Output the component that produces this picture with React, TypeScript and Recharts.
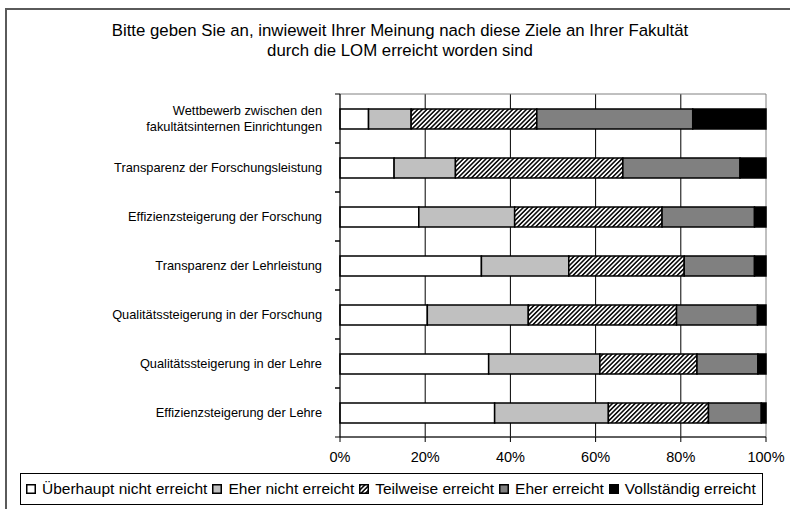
import React from "react";
import { BarChart, Bar, XAxis, YAxis, CartesianGrid, ReferenceArea } from "recharts";

const categories = [
  "Wettbewerb zwischen den\nfakultätsinternen Einrichtungen",
  "Transparenz der Forschungsleistung",
  "Effizienzsteigerung der Forschung",
  "Transparenz der Lehrleistung",
  "Qualitätssteigerung in der Forschung",
  "Qualitätssteigerung in der Lehre",
  "Effizienzsteigerung der Lehre",
];

const seriesNames = [
  "Überhaupt nicht erreicht",
  "Eher nicht erreicht",
  "Teilweise erreicht",
  "Eher erreicht",
  "Vollständig erreicht",
];

// percent values, one entry per category (top to bottom)
const ueberhauptNicht = [6.7, 12.7, 18.5, 33.2, 20.5, 34.9, 36.3];
const eherNicht = [10.0, 14.4, 22.5, 20.5, 23.7, 26.1, 26.7];
const teilweise = [29.5, 39.3, 34.6, 27.1, 34.8, 22.8, 23.5];
const eherErreicht = [36.6, 27.5, 21.7, 16.5, 19.0, 14.3, 12.4];
const vollstaendig = [17.2, 6.1, 2.7, 2.7, 2.0, 1.9, 1.1];

const xTicks = [0, 20, 40, 60, 80, 100];

const seriesValues = [ueberhauptNicht, eherNicht, teilweise, eherErreicht, vollstaendig];
const fills = ["#FFFFFF", "#C0C0C0", "url(#hatch)", "#808080", "#000000"];

const data = categories.map((name, i) => {
  const row: Record<string, string | number> = { name };
  seriesValues.forEach((vals, s) => {
    row["s" + s] = vals[i];
  });
  return row;
});

const FONT = "'Liberation Sans', Arial, sans-serif";

function CategoryTick(props: any) {
  const { x, y, payload } = props;
  const half = payload.offset || 24.5;
  const lines = String(payload.value).split("\n");
  const lh = 16;
  const first = -((lines.length - 1) * lh) / 2 + 4.5;
  return (
    <g>
      <line x1={x - 5} x2={x} y1={y - half} y2={y - half} stroke="#000" />
      <line x1={x - 5} x2={x} y1={y + half} y2={y + half} stroke="#000" />
      <text x={x - 18} y={y} textAnchor="end" fontSize={12.8} fill="#000" fontFamily={FONT}>
        {lines.map((l, i) => (
          <tspan key={i} x={x - 18} dy={i === 0 ? first : lh}>
            {l}
          </tspan>
        ))}
      </text>
    </g>
  );
}

function Swatch({ index }: { index: number }) {
  return (
    <svg width={10} height={10} style={{ marginRight: 6, flex: "none" }}>
      <rect x={0.75} y={0.75} width={8.5} height={8.5} fill={fills[index]} stroke="#000" strokeWidth={1.5} />
    </svg>
  );
}

export default function App() {
  return (
    <div
      style={{
        position: "fixed",
        left: 0,
        top: 0,
        width: 790,
        height: 509,
        overflow: "hidden",
        background: "#fff",
        fontFamily: FONT,
      }}
    >
      <svg width={0} height={0} style={{ position: "absolute" }}>
        <defs>
          <pattern id="hatch" patternUnits="userSpaceOnUse" width={3.2} height={3.2} patternTransform="rotate(45)">
            <rect width={3.2} height={3.2} fill="#fff" />
            <line x1={1.6} y1={0} x2={1.6} y2={3.2} stroke="#000" strokeWidth={1.5} />
          </pattern>
        </defs>
      </svg>

      <div
        style={{
          position: "absolute",
          left: 5,
          top: 8,
          width: 820,
          height: 540,
          border: "2px solid #5a5a5a",
          boxSizing: "border-box",
        }}
      />

      <div
        style={{
          position: "absolute",
          left: 0,
          top: 21,
          width: 800,
          textAlign: "center",
          fontSize: 16.8,
          lineHeight: "20px",
          color: "#000",
        }}
      >
        Bitte geben Sie an, inwieweit Ihrer Meinung nach diese Ziele an Ihrer Fakultät
        <br />
        durch die LOM erreicht worden sind
      </div>

      <div style={{ position: "absolute", left: 0, top: 0 }}>
        <BarChart
          width={790}
          height={509}
          data={data}
          layout="vertical"
          margin={{ top: 94, right: 24, bottom: 42, left: 0 }}
          barSize={20}
        >
          <CartesianGrid horizontal={false} verticalValues={[20, 40, 60, 80]} stroke="#000" />
          <ReferenceArea x1={0} x2={100} fill="none" stroke="#808080" strokeOpacity={1} fillOpacity={0} ifOverflow="visible" />
          <XAxis
            type="number"
            domain={[0, 100]}
            ticks={xTicks}
            tickFormatter={(v) => `${v}%`}
            tick={{ fontSize: 14.5, fill: "#000", fontFamily: FONT }}
            tickSize={5}
            tickMargin={10}
            height={30}
            axisLine={{ stroke: "#000" }}
            tickLine={{ stroke: "#000" }}
            interval={0}
          />
          <YAxis
            type="category"
            dataKey="name"
            width={340}
            interval={0}
            tickSize={0}
            tickMargin={0}
            tickLine={false}
            axisLine={{ stroke: "#000" }}
            tick={<CategoryTick />}
          />
          {seriesNames.map((n, s) => (
            <Bar
              key={n}
              dataKey={"s" + s}
              name={n}
              stackId="a"
              fill={fills[s]}
              stroke="#000"
              strokeWidth={1.5}
              isAnimationActive={false}
            />
          ))}
        </BarChart>
      </div>

      <div
        style={{
          position: "absolute",
          left: 20,
          top: 473,
          width: 743,
          height: 32,
          border: "1px solid #000",
          boxSizing: "border-box",
          display: "flex",
          alignItems: "center",
          paddingLeft: 5,
          fontSize: 15.5,
          color: "#000",
          whiteSpace: "nowrap",
        }}
      >
        {seriesNames.map((n, s) => (
          <div key={n} style={{ display: "flex", alignItems: "center", marginRight: 5 }}>
            <Swatch index={s} />
            <span>{n}</span>
          </div>
        ))}
      </div>
    </div>
  );
}
